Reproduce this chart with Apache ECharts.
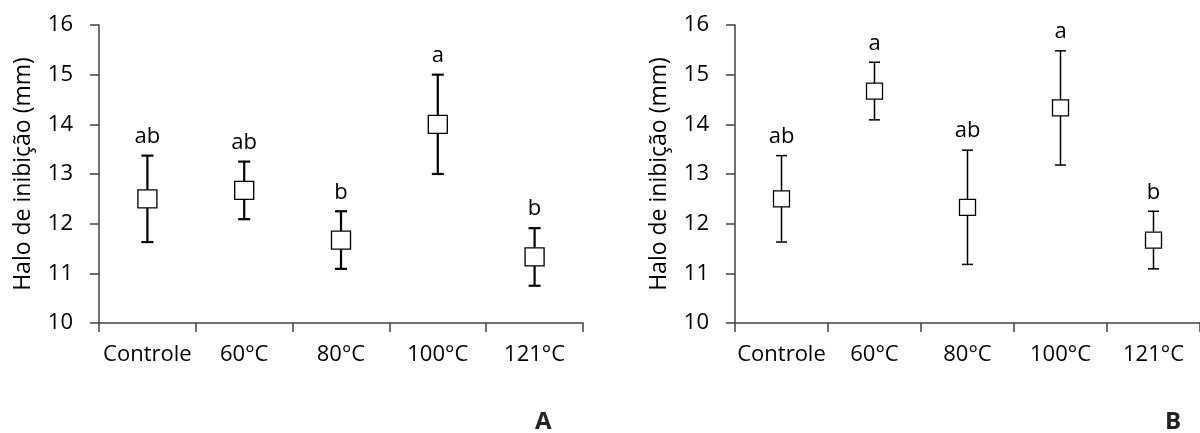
<!DOCTYPE html>
<html>
<head>
<meta charset="utf-8">
<script src="https://cdn.jsdelivr.net/npm/echarts@6/dist/echarts.min.js"></script>
<style>html,body{margin:0;padding:0;background:#fff}#c{width:1200px;height:433px}</style>
</head>
<body>
<div id="c"></div>
<script>
var categories = ['Controle', '60°C', '80°C', '100°C', '121°C'];
var meansA = [12.5, 12.67, 11.67, 14.0, 11.33];
var errA = [0.87, 0.58, 0.58, 1.0, 0.58];
var lettersA = ['ab', 'ab', 'b', 'a', 'b'];
var meansB = [12.5, 14.67, 12.33, 14.33, 11.67];
var errB = [0.87, 0.58, 1.15, 1.15, 0.58];
var lettersB = ['ab', 'a', 'ab', 'a', 'b'];
var yMin = 10, yMax = 16, yStep = 1;
var yTitle = 'Halo de inibição (mm)';
var panelTags = ['A', 'B'];

var FONT = 'Open Sans';
var FS = 22;
var chart = echarts.init(document.getElementById('c'), null, {renderer: 'canvas'});

function xAxisFor(gi) {
  return {
    type: 'category', gridIndex: gi, data: categories,
    axisLine: {lineStyle: {color: '#404040', width: 1.5}},
    axisTick: {show: true, interval: 0, length: 9, inside: false, lineStyle: {color: '#404040', width: 1.5}},
    axisLabel: {interval: 0, color: '#000', fontFamily: FONT, fontSize: FS, margin: 21},
    splitLine: {show: false}
  };
}
function yAxisFor(gi) {
  return {
    type: 'value', gridIndex: gi, min: yMin, max: yMax, interval: yStep,
    name: yTitle, nameLocation: 'middle', nameGap: 64, nameRotate: 90,
    nameTextStyle: {color: '#000', fontFamily: FONT, fontSize: 23},
    axisLine: {show: true, lineStyle: {color: '#404040', width: 1.5}},
    axisTick: {show: true, length: 9, lineStyle: {color: '#404040', width: 1.5}},
    axisLabel: {color: '#000', fontFamily: FONT, fontSize: FS, margin: 26},
    splitLine: {show: false}
  };
}
function errSeries(gi, means, errs, letters, lw, capW) {
  return {
    type: 'custom', xAxisIndex: gi, yAxisIndex: gi, z: 2,
    data: means.map(function (m, i) { return [i, m, errs[i]]; }),
    renderItem: function (params, api) {
      var i = api.value(0), m = api.value(1), e = api.value(2);
      var top = api.coord([i, m + e]);
      var bot = api.coord([i, m - e]);
      var x = top[0];
      return {
        type: 'group',
        children: [
          {type: 'line', shape: {x1: x, y1: top[1], x2: x, y2: bot[1]}, style: {stroke: '#000', lineWidth: lw}},
          {type: 'line', shape: {x1: x - capW / 2, y1: top[1], x2: x + capW / 2, y2: top[1]}, style: {stroke: '#000', lineWidth: lw}},
          {type: 'line', shape: {x1: x - capW / 2, y1: bot[1], x2: x + capW / 2, y2: bot[1]}, style: {stroke: '#000', lineWidth: lw}},
          {type: 'text', x: x, y: top[1] - 19, style: {text: letters[params.dataIndex], fill: '#000', font: FS + 'px "' + FONT + '"', align: 'center', verticalAlign: 'middle'}}
        ]
      };
    }
  };
}
function markSeries(gi, means, size) {
  return {
    type: 'scatter', xAxisIndex: gi, yAxisIndex: gi, z: 3,
    symbol: 'rect', symbolSize: size,
    itemStyle: {color: '#fff', borderColor: '#000', borderWidth: 1.3, opacity: 1},
    emphasis: {disabled: true},
    data: means.map(function (m, i) { return [i, m]; })
  };
}

chart.setOption({
  animation: false,
  backgroundColor: '#fff',
  grid: [
    {left: 99, top: 25, width: 484, height: 298},
    {left: 735, top: 25, width: 471, height: 298}
  ],
  xAxis: [xAxisFor(0), xAxisFor(1)],
  yAxis: [yAxisFor(0), yAxisFor(1)],
  graphic: [
    {type: 'text', left: 535, top: 410, style: {text: panelTags[0], fill: '#222', font: 'bold 24px "' + FONT + '"'}},
    {type: 'text', left: 1165, top: 410, style: {text: panelTags[1], fill: '#222', font: 'bold 24px "' + FONT + '"'}}
  ],
  series: [
    errSeries(0, meansA, errA, lettersA, 2.2, 12),
    markSeries(0, meansA, [19, 18]),
    errSeries(1, meansB, errB, lettersB, 1.5, 11),
    markSeries(1, meansB, [16, 16])
  ]
});
</script>
</body>
</html>
